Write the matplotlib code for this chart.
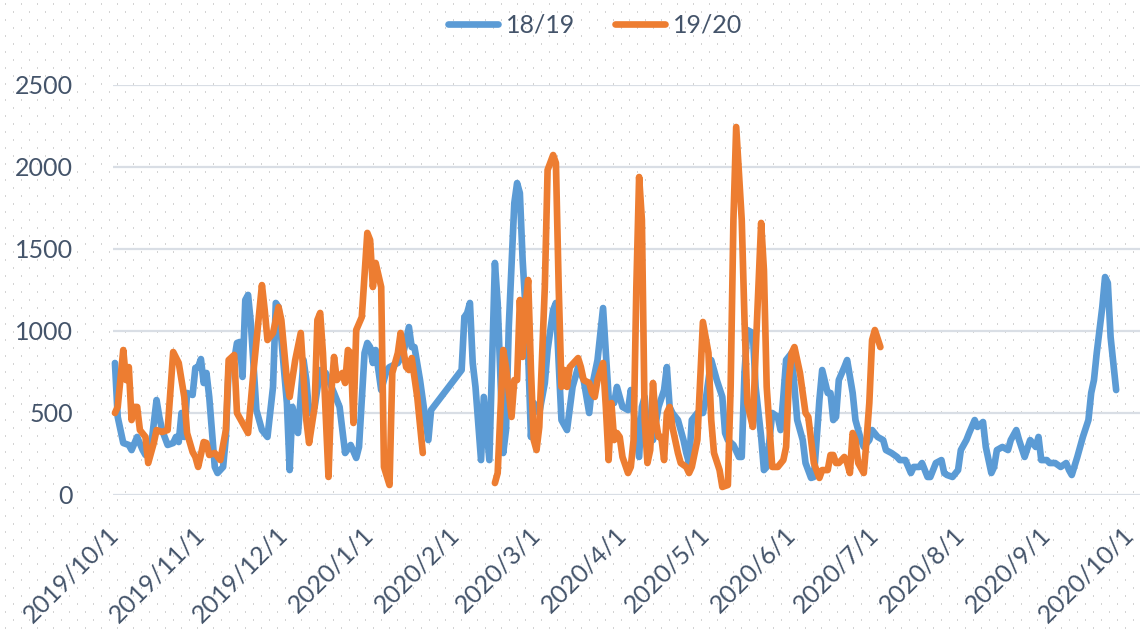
import numpy as np
import matplotlib.pyplot as plt
import matplotlib.dates as mdates
from matplotlib.ticker import FuncFormatter

# 基准日期：2019/10/1，下面的 days 是距离基准日期的天数
start = np.datetime64('2019-10-01')

# 18/19 系列（蓝色）
blue_days = [0, 1, 3, 5, 6, 8, 10, 11, 13, 15, 16, 17, 19, 21, 22, 23, 24, 25, 26, 28,
             29, 30, 31, 32, 33, 34, 36, 37, 39, 40, 41, 43, 44, 45, 46, 47, 48, 49, 51, 53,
             55, 57, 58, 59, 62, 63, 64, 66, 68, 69, 70, 72, 74, 76, 79, 81, 83, 85, 87, 88,
             90, 91, 92, 93, 94, 96, 98, 99, 102, 104, 106, 107, 108, 110, 112, 113, 114, 125, 126, 127,
             128, 129, 130, 132, 133, 135, 137, 138, 140, 141, 142, 144, 145, 146, 147, 149, 150, 151, 153, 155,
             156, 158, 159, 160, 161, 163, 165, 167, 169, 171, 172, 174, 176, 177, 178, 180, 181, 183, 185, 186,
             187, 189, 190, 191, 192, 194, 196, 198, 199, 200, 201, 203, 205, 206, 207, 208, 210, 212, 213, 215,
             217, 219, 220, 221, 223, 225, 226, 227, 228, 230, 231, 233, 234, 235, 237, 239, 240, 241, 242, 244,
             245, 246, 248, 249, 251, 252, 253, 254, 255, 257, 258, 259, 260, 261, 263, 264, 266, 267, 269, 270,
             272, 273, 275, 277, 278, 280, 282, 283, 285, 287, 288, 290, 291, 293, 294, 296, 298, 299, 300, 302,
             304, 305, 307, 308, 310, 311, 313, 314, 316, 317, 318, 320, 322, 323, 325, 326, 328, 330, 332, 333,
             334, 336, 337, 339, 341, 343, 344, 345, 347, 349, 351, 352, 353, 354, 356, 357, 358, 359, 361]
blue_vals = [805, 476, 317, 305, 274, 354, 274, 244, 293, 579, 476, 396, 305, 317, 354, 323, 500, 354, 622, 610,
             775, 780, 829, 683, 744, 598, 171, 134, 171, 354, 780, 823, 927, 933, 720, 1189, 1220, 1049, 518, 396,
             354, 659, 1171, 1146, 561, 152, 537, 378, 823, 701, 500, 537, 762, 744, 622, 537, 256, 305, 226, 293,
             866, 927, 902, 805, 884, 640, 762, 780, 805, 866, 1024, 902, 902, 701, 457, 335, 518, 762, 1085, 1110,
             1171, 805, 659, 213, 598, 213, 1415, 1171, 256, 396, 1024, 1780, 1902, 1841, 1433, 866, 354, 561, 500, 683,
             884, 1128, 1171, 805, 457, 396, 659, 780, 701, 500, 659, 823, 1140, 866, 598, 561, 659, 537, 518, 640,
             518, 232, 537, 598, 354, 335, 537, 640, 780, 537, 500, 457, 335, 256, 195, 457, 500, 500, 579, 823,
             701, 598, 378, 335, 305, 232, 232, 744, 1006, 988, 659, 354, 152, 171, 500, 476, 396, 598, 823, 866,
             659, 457, 335, 195, 104, 110, 335, 579, 762, 622, 622, 457, 476, 701, 780, 823, 622, 457, 335, 293,
             335, 396, 354, 335, 274, 256, 232, 213, 213, 134, 171, 171, 195, 110, 110, 195, 213, 134, 122, 110,
             152, 274, 335, 378, 457, 415, 445, 293, 134, 171, 274, 293, 274, 335, 396, 335, 232, 335, 293, 354,
             213, 213, 195, 195, 171, 195, 152, 122, 232, 354, 457, 622, 701, 866, 1146, 1329, 1293, 963, 640]

# 19/20 系列（橙色），春节期间无数据
orange_days = [0, 1, 3, 4, 5, 6, 7, 8, 9, 11, 12, 14, 15, 17, 19, 21, 23, 25, 26, 28,
               29, 30, 32, 33, 34, 36, 38, 40, 41, 43, 44, 46, 48, 50, 53, 54, 55, 57, 59, 60,
               62, 63, 65, 67, 69, 70, 72, 73, 74, 75, 77, 78, 79, 80, 82, 83, 84, 85, 86, 87,
               89, 91, 92, 93, 94, 96, 97, 99, 100, 102, 103, 105, 106, 107, 109, 111, 124, 137, 138, 140,
               141, 143, 144, 145, 146, 147, 148, 149, 150, 151, 152, 153, 155, 156, 158, 159, 160, 161, 162, 163,
               164, 167, 168, 169, 171, 172, 173, 174, 176, 177, 178, 179, 180, 181, 182, 183, 185, 186, 187, 188,
               189, 190, 191, 192, 193, 194, 195, 196, 197, 198, 199, 200, 201, 203, 204, 206, 207, 208, 210, 211,
               212, 214, 215, 216, 218, 219, 221, 222, 223, 224, 226, 227, 228, 230, 231, 232, 233, 234, 235, 237,
               239, 241, 242, 243, 244, 245, 247, 249, 250, 251, 252, 254, 255, 257, 258, 259, 260, 261, 263, 264,
               265, 266, 267, 268, 270, 271, 272, 273, 274, 276]
orange_vals = [500, 537, 884, 701, 780, 457, 537, 537, 396, 354, 195, 317, 396, 384, 396, 872, 805, 598, 378, 262,
               232, 171, 323, 317, 244, 256, 213, 396, 823, 854, 500, 439, 378, 762, 1280, 1128, 945, 988, 1146, 1067,
               701, 598, 823, 988, 457, 317, 537, 1067, 1110, 866, 110, 622, 842, 701, 744, 683, 884, 866, 439, 1006,
               1085, 1598, 1555, 1268, 1415, 1268, 171, 61, 744, 866, 988, 780, 762, 835, 598, 256, np.nan, 73, 134, 884,
               780, 476, 701, 701, 1189, 842, 1146, 1311, 762, 335, 274, 415, 1268, 1982, 2073, 2024, 1268, 659, 762, 659,
               780, 835, 780, 701, 683, 622, 598, 701, 805, 537, 213, 561, 335, 378, 354, 232, 134, 171, 335, 1268,
               1939, 1677, 457, 195, 274, 683, 457, 354, 354, 213, 500, 537, 415, 256, 195, 171, 134, 171, 335, 701,
               1055, 866, 457, 256, 152, 49, 61, 659, 1677, 2244, 1677, 1067, 561, 415, 866, 1268, 1659, 1372, 659, 171,
               171, 213, 293, 701, 866, 902, 744, 500, 476, 335, 195, 104, 152, 152, 244, 244, 195, 195, 232, 195,
               134, 378, 335, 195, 134, 335, 561, 945, 1006, 902]

series_names = ['18/19', '19/20']
colors = ['#5b9bd5', '#ed7d31']
y_ticks = [0, 500, 1000, 1500, 2000, 2500]
month_ticks = ['2019-10-01', '2019-11-01', '2019-12-01', '2020-01-01', '2020-02-01', '2020-03-01', '2020-04-01',
               '2020-05-01', '2020-06-01', '2020-07-01', '2020-08-01', '2020-09-01', '2020-10-01']

plt.rcParams['font.family'] = ['Lato', 'DejaVu Sans']
text_color = '#44546a'

fig = plt.figure(figsize=(11.4, 6.33), dpi=100)

# 背景的点阵花纹
H, W = 633, 1140
bg = np.ones((H, W, 3))
for i, yy in enumerate(range(3, H, 8)):
    x0 = 5 if i % 2 == 0 else 13
    bg[yy:yy + 2, x0::16] = 0.83
fig.figimage(bg, xo=0, yo=0, zorder=-10)

ax = fig.add_axes([113 / 1140, (633 - 495) / 633, 1 - 113 / 1140, 410 / 633])
ax.set_facecolor('none')

blue_x = start + np.array(blue_days).astype('timedelta64[D]')
orange_x = start + np.array(orange_days).astype('timedelta64[D]')

ax.plot(blue_x, blue_vals, color=colors[0], lw=4.8, label=series_names[0],
        solid_joinstyle='round', solid_capstyle='round', clip_on=False, zorder=3)
ax.plot(orange_x, orange_vals, color=colors[1], lw=4.8, label=series_names[1],
        solid_joinstyle='round', solid_capstyle='round', clip_on=False, zorder=4)

ax.set_ylim(0, 2500)
ax.set_yticks(y_ticks)
xticks = [mdates.date2num(np.datetime64(d)) for d in month_ticks]
x_left = mdates.date2num(start) - 0.7
ax.set_xlim(x_left, mdates.date2num(np.datetime64('2020-10-01')) + 3.6)
ax.set_xticks(xticks)
ax.xaxis.set_major_formatter(FuncFormatter(
    lambda v, p: '{}/{}/{}'.format(mdates.num2date(v).year, mdates.num2date(v).month, mdates.num2date(v).day)))

ax.grid(axis='y', color='#d9dee5', lw=1.6, zorder=1)
ax.set_axisbelow(True)
for s in ax.spines.values():
    s.set_visible(False)

ax.tick_params(axis='y', length=0, pad=29, labelsize=18, labelcolor=text_color)
ax.tick_params(axis='x', length=0, pad=26, labelsize=18, labelcolor=text_color)
for lab in ax.get_xticklabels():
    lab.set_rotation(45)
    lab.set_ha('right')
    lab.set_va('center')
    lab.set_rotation_mode('anchor')

leg = fig.legend(loc='center', bbox_to_anchor=(595 / 1140, 1 - 25 / 633), ncol=2, frameon=False,
                 fontsize=18, handlelength=2.0, handletextpad=0.3, columnspacing=1.6)
for t in leg.get_texts():
    t.set_color(text_color)

fig.savefig('out.png', dpi=100)
